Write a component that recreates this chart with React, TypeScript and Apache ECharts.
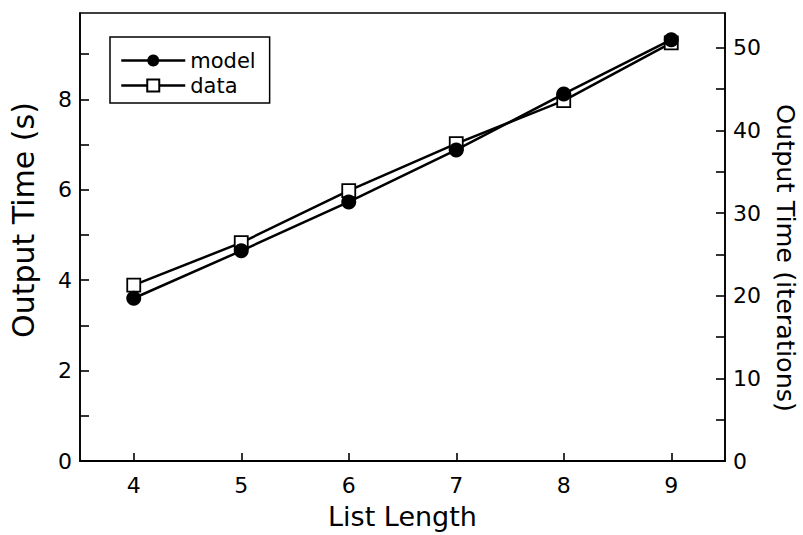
import React, { useEffect, useRef } from "react";
import * as echarts from "echarts";

const listLengths = ["4", "5", "6", "7", "8", "9"];
const modelSeconds = [3.6, 4.65, 5.73, 6.88, 8.12, 9.32];
const dataSeconds = [3.89, 4.83, 5.98, 7.02, 7.97, 9.25];
const leftTicks = [0, 2, 4, 6, 8];
const leftMinorTicks = [0, 1, 2, 3, 4, 5, 6, 7, 8, 9];
const rightTicks = [0, 10, 20, 30, 40, 50];
const rightMinorTicks = [0, 5, 10, 15, 20, 25, 30, 35, 40, 45, 50];
const leftTitle = "Output Time (s)";
const rightTitle = "Output Time (iterations)";

const FONT = "DejaVu Sans";

export default function App() {
  const ref = useRef<HTMLDivElement>(null);
  useEffect(() => {
    if (!ref.current) return;
    const chart = echarts.init(ref.current, undefined, { renderer: "svg" });
    const axisLine = { show: true, lineStyle: { color: "#000", width: 1.6 } };
    chart.setOption({
      animation: false,
      backgroundColor: "#fff",
      grid: {
        left: 80,
        top: 13,
        right: 78,
        bottom: 70,
        show: true,
        borderColor: "#000",
        borderWidth: 1.6,
        containLabel: false,
      },
      legend: {
        data: ["model", "data"],
        orient: "vertical",
        left: 110,
        top: 37,
        itemWidth: 64,
        itemHeight: 15,
        itemGap: 4,
        borderColor: "#000",
        borderWidth: 1.5,
        borderRadius: 0,
        padding: [13, 14, 7, 10],
        lineStyle: { color: "#000", width: 2.5 },
        textStyle: { fontFamily: FONT, fontSize: 21, color: "#000" },
      },
      graphic: [
        {
          type: "text",
          x: 23,
          y: 220,
          rotation: Math.PI / 2,
          style: {
            text: leftTitle,
            align: "center",
            verticalAlign: "middle",
            fontFamily: FONT,
            fontSize: 30,
            fill: "#000",
          },
        },
        {
          type: "text",
          x: 786,
          y: 258,
          rotation: -Math.PI / 2,
          style: {
            text: rightTitle,
            align: "center",
            verticalAlign: "middle",
            fontFamily: FONT,
            fontSize: 25.5,
            fill: "#000",
          },
        },
      ],
      xAxis: {
        type: "category",
        data: listLengths,
        boundaryGap: true,
        name: "List Length",
        nameLocation: "middle",
        nameGap: 42,
        nameTextStyle: { fontFamily: FONT, fontSize: 27, color: "#000" },
        axisLine: { show: true, lineStyle: { color: "#000", width: 2 } },
        axisTick: { show: true, inside: true, alignWithLabel: true, length: 8, lineStyle: { color: "#000", width: 1.6 } },
        axisLabel: { fontFamily: FONT, fontSize: 22, color: "#000", margin: 13 },
        splitLine: { show: false },
      },
      yAxis: [
        {
          type: "value",
          min: 0,
          max: 9.91,
          position: "left",
          axisLine,
          axisTick: { show: true, inside: true, length: 9, customValues: leftMinorTicks, lineStyle: { color: "#000", width: 1.6 } },
          axisLabel: { fontFamily: FONT, fontSize: 22, color: "#000", margin: 8, customValues: leftTicks },
          splitLine: { show: false },
        },
        {
          type: "value",
          min: 0,
          max: 54.2,
          position: "right",
          axisLine,
          axisTick: { show: true, inside: true, length: 9, customValues: rightMinorTicks, lineStyle: { color: "#000", width: 1.6 } },
          axisLabel: { fontFamily: FONT, fontSize: 22, color: "#000", margin: 8, customValues: rightTicks },
          splitLine: { show: false },
        },
      ],
      series: [
        {
          name: "data",
          type: "line",
          yAxisIndex: 0,
          data: dataSeconds,
          symbol: "rect",
          symbolSize: 13,
          z: 2,
          lineStyle: { color: "#000", width: 2.5 },
          itemStyle: { color: "#fff", borderColor: "#000", borderWidth: 1.8 },
        },
        {
          name: "model",
          type: "line",
          yAxisIndex: 0,
          data: modelSeconds,
          symbol: "circle",
          symbolSize: 15,
          z: 3,
          lineStyle: { color: "#000", width: 2.5 },
          itemStyle: { color: "#000", borderColor: "#000", borderWidth: 0 },
        },
      ],
    });
    return () => chart.dispose();
  }, []);
  return (
    <div
      ref={ref}
      style={{ position: "fixed", left: 0, top: 0, width: 803, height: 535, background: "#fff" }}
    />
  );
}
